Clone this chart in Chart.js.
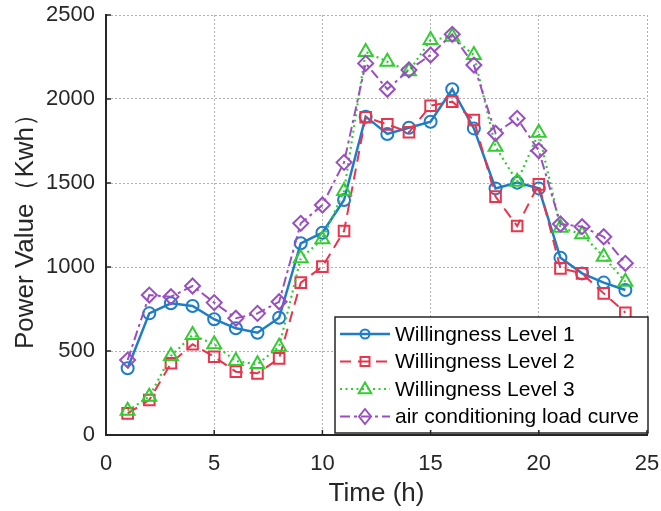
<!DOCTYPE html>
<html>
<head>
<meta charset="utf-8">
<script src="https://cdn.jsdelivr.net/npm/chart.js@4/dist/chart.umd.min.js"></script>
<style>
  html, body { margin: 0; padding: 0; background: #ffffff; }
  #wrap { width: 661px; height: 511px; }
</style>
</head>
<body>
<div id="wrap"><canvas id="c" width="661" height="511"></canvas></div>
<script>
// ---- data ----
const hours = [1,2,3,4,5,6,7,8,9,10,11,12,13,14,15,16,17,18,19,20,21,22,23,24];
const level1 = [397,724,784,768,689,635,609,698,1141,1204,1399,1895,1792,1829,1865,2058,1825,1468,1502,1468,1055,962,907,863];
const level2 = [129,208,427,540,466,377,367,456,907,1002,1214,1891,1849,1802,1960,1984,1875,1419,1244,1492,992,962,843,728];
const level3 = [145,228,470,595,540,440,421,526,1052,1165,1452,2280,2222,2165,2351,2370,2262,1716,1508,1799,1234,1195,1061,912];
const acLoad = [446,833,823,887,788,695,724,793,1260,1369,1623,2212,2058,2173,2262,2385,2202,1796,1885,1692,1256,1240,1180,1022];
const seriesNames = ['Willingness Level 1','Willingness Level 2','Willingness Level 3','air conditioning load curve'];
const xTicks = [0,5,10,15,20,25];
const yTicks = [0,500,1000,1500,2000,2500];
const xTitle = 'Time (h)';
const yTitle = 'Power Value（Kwh）';

const FONT = "'Liberation Sans', Arial, Helvetica, sans-serif";
const TXT = '#262626';
const GRID = 'rgba(150,150,150,0.75)';

function pts(vals) { return hours.map((h, i) => ({x: h, y: vals[i]})); }

const styles = [
  {color:'#1f7cc8', dash:[], width:2.5, point:'circle', r:6},
  {color:'#e8344c', dash:[11,7], width:2, point:'rect', r:7.5},
  {color:'#33cc33', dash:[2,3.5], width:2.2, point:'triangle', r:8},
  {color:'#9a4fc0', dash:[10,4,3,4], width:2, point:'rectRot', r:7.5}
];
const allSeries = [level1, level2, level3, acLoad];

const datasets = allSeries.map((vals, i) => ({
  label: seriesNames[i],
  data: pts(vals),
  borderColor: styles[i].color,
  backgroundColor: 'rgba(0,0,0,0)',
  borderWidth: styles[i].width,
  borderDash: styles[i].dash,
  pointStyle: styles[i].point,
  pointRadius: styles[i].r,
  pointBorderWidth: 2,
  pointBorderColor: styles[i].color,
  pointBackgroundColor: 'rgba(0,0,0,0)',
  tension: 0,
  fill: false,
  order: 4 - i
}));

function drawMarker(ctx, style, x, y, r) {
  ctx.beginPath();
  if (style === 'circle') {
    ctx.arc(x, y, r, 0, Math.PI * 2);
  } else if (style === 'rect') {
    ctx.rect(x - r, y - r, 2 * r, 2 * r);
  } else if (style === 'triangle') {
    ctx.moveTo(x, y - r * 1.1);
    ctx.lineTo(x + r * 1.05, y + r * 0.7);
    ctx.lineTo(x - r * 1.05, y + r * 0.7);
    ctx.closePath();
  } else {
    ctx.moveTo(x, y - r * 1.25);
    ctx.lineTo(x + r, y);
    ctx.lineTo(x, y + r * 1.25);
    ctx.lineTo(x - r, y);
    ctx.closePath();
  }
  ctx.stroke();
}

const inwardTicks = {
  id: 'inwardTicks',
  afterDraw(chart) {
    const ctx = chart.ctx, xs = chart.scales.x, ys = chart.scales.y, a = chart.chartArea;
    ctx.save();
    ctx.strokeStyle = TXT; ctx.lineWidth = 1.5; ctx.setLineDash([]);
    xTicks.forEach(v => { const px = xs.getPixelForValue(v); ctx.beginPath(); ctx.moveTo(px, a.bottom); ctx.lineTo(px, a.bottom - 5); ctx.stroke(); });
    yTicks.forEach(v => { const py = ys.getPixelForValue(v); ctx.beginPath(); ctx.moveTo(a.left, py); ctx.lineTo(a.left + 5, py); ctx.stroke(); });
    ctx.restore();
  }
};

const boxLegend = {
  id: 'boxLegend',
  afterDatasetsDraw(chart) {
    const ctx = chart.ctx, a = chart.chartArea;
    const w = 313, h = 116;
    const right = a.right + 1, bottom = a.bottom - 2;
    const left = right - w, top = bottom - h;
    ctx.save();
    ctx.fillStyle = '#ffffff';
    ctx.fillRect(left, top, w, h);
    ctx.strokeStyle = TXT; ctx.lineWidth = 1.5; ctx.setLineDash([]);
    ctx.strokeRect(left, top, w, h);
    ctx.font = '21px ' + FONT;
    ctx.textBaseline = 'middle';
    ctx.textAlign = 'left';
    chart.data.datasets.forEach((ds, i) => {
      const st = styles[i];
      const y = top + 17 + i * 27.5;
      ctx.strokeStyle = st.color; ctx.lineWidth = st.width; ctx.setLineDash(st.dash);
      ctx.beginPath(); ctx.moveTo(left + 5, y); ctx.lineTo(left + 55, y); ctx.stroke();
      ctx.setLineDash([]); ctx.lineWidth = 2;
      drawMarker(ctx, st.point, left + 30, y, st.point === 'circle' ? 4.5 : (st.point === 'rect' ? 4.5 : 6));
      ctx.fillStyle = '#000';
      ctx.fillText(ds.label, left + 60, y + 1);
    });
    ctx.restore();
  }
};

new Chart(document.getElementById('c'), {
  type: 'line',
  data: { datasets },
  plugins: [boxLegend, inwardTicks],
  options: {
    responsive: false,
    animation: false,
    devicePixelRatio: 1,
    layout: { padding: { top: 15, right: 14, left: 0, bottom: 0 } },
    plugins: { legend: { display: false }, tooltip: { enabled: false } },
    scales: {
      x: {
        type: 'linear', min: 0, max: 25,
        afterBuildTicks: s => { s.ticks = xTicks.map(v => ({value: v})); },
        afterFit: s => { s.height = 76; s.paddingLeft = 0; s.paddingRight = 0; },
        grid: { color: GRID, lineWidth: 1, drawTicks: false, tickLength: 0 },
        border: { display: true, color: TXT, width: 2, dash: [2, 2] },
        ticks: { color: TXT, font: { family: FONT, size: 22 }, padding: 16, maxRotation: 0, callback: v => String(v) },
        title: { display: true, text: xTitle, color: TXT, font: { family: FONT, size: 26 }, padding: { top: 0, bottom: 2 } }
      },
      y: {
        type: 'linear', min: 0, max: 2500,
        afterBuildTicks: s => { s.ticks = yTicks.map(v => ({value: v})); },
        afterFit: s => { s.width = 106; s.paddingTop = 0; s.paddingBottom = 0; },
        grid: { color: GRID, lineWidth: 1, drawTicks: false, tickLength: 0 },
        border: { display: true, color: TXT, width: 2, dash: [2, 2] },
        ticks: { color: TXT, font: { family: FONT, size: 22 }, padding: 11, callback: v => String(v) },
        title: { display: true, text: yTitle, color: TXT, font: { family: FONT, size: 26 }, padding: { top: 10, bottom: 0 } }
      }
    }
  }
});
</script>
</body>
</html>
